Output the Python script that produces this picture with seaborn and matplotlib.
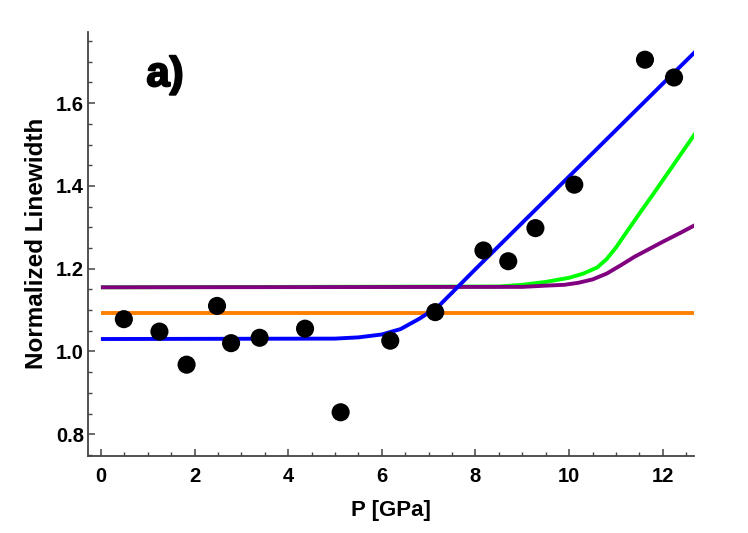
import numpy as np
import pandas as pd
import matplotlib
matplotlib.use("Agg")
import matplotlib.pyplot as plt
import matplotlib.patheffects as pe
from matplotlib.ticker import MultipleLocator, FormatStrFormatter
import seaborn as sns

# measured data points
pressure = [0.49, 1.25, 1.83, 2.48, 2.78, 3.39, 4.36, 5.12, 6.18, 7.14, 8.17, 8.70, 9.28, 10.11, 11.62, 12.24]
linewidth = [1.078, 1.048, 0.968, 1.110, 1.020, 1.033, 1.055, 0.853, 1.026, 1.095, 1.244, 1.218, 1.298, 1.403, 1.705, 1.662]

# model curves
orange_x = [0.0, 12.7]
orange_y = [1.092, 1.092]

blue_x = [0.0, 5.0, 5.5, 6.0, 6.4, 6.8, 7.2, 7.5, 8.0, 9.0, 10.0, 11.0, 12.0, 12.7]
blue_y = [1.030, 1.031, 1.034, 1.041, 1.054, 1.079, 1.108, 1.142, 1.199, 1.311, 1.423, 1.535, 1.647, 1.725]

green_x = [0.0, 8.5, 9.0, 9.5, 10.0, 10.3, 10.6, 10.8, 11.0, 11.2, 11.5, 11.8, 12.1, 12.4, 12.7]
green_y = [1.155, 1.157, 1.161, 1.168, 1.178, 1.188, 1.203, 1.223, 1.251, 1.284, 1.333, 1.381, 1.430, 1.479, 1.528]

purple_x = [0.0, 9.0, 9.5, 9.9, 10.2, 10.5, 10.8, 11.1, 11.4, 11.7, 12.0, 12.4, 12.7]
purple_y = [1.155, 1.156, 1.159, 1.161, 1.166, 1.174, 1.188, 1.208, 1.229, 1.247, 1.265, 1.288, 1.306]

sns.set_style("ticks")
plt.rcParams['font.family'] = ['Liberation Sans', 'DejaVu Sans']
plt.rcParams['font.weight'] = 'bold'
plt.rcParams['text.color'] = 'black'
plt.rcParams['axes.labelcolor'] = 'black'

fig = plt.figure(figsize=(7.48, 5.33), dpi=100)
ax = fig.add_axes([0.118, 0.145, 0.810, 0.795])

lw = 2.8
line_kw = dict(linewidth=lw, solid_joinstyle='round', solid_capstyle='butt')
sns.lineplot(x=orange_x, y=orange_y, ax=ax, color='#ff8000', **line_kw)
sns.lineplot(x=green_x, y=green_y, ax=ax, color='#00ff00', **line_kw)
sns.lineplot(x=purple_x, y=purple_y, ax=ax, color='#800080', **line_kw)
sns.lineplot(x=blue_x, y=blue_y, ax=ax, color='#0000ff', **line_kw)

pts = pd.DataFrame({"P": pressure, "w": linewidth})
sns.scatterplot(data=pts, x="P", y="w", ax=ax, color='black', s=170, edgecolor='none', zorder=5)

ax.set_xlim(-0.27, 12.67)
ax.set_ylim(0.748, 1.772)

ax.xaxis.set_major_locator(MultipleLocator(2))
ax.xaxis.set_minor_locator(MultipleLocator(0.5))
ax.yaxis.set_major_locator(MultipleLocator(0.2))
ax.yaxis.set_minor_locator(MultipleLocator(0.05))
ax.yaxis.set_major_formatter(FormatStrFormatter('%.1f'))

sns.despine(ax=ax)
for side in ['left', 'bottom']:
    ax.spines[side].set_color('#444444')
    ax.spines[side].set_linewidth(1.3)

ax.tick_params(which='major', direction='in', length=5, width=1.1, color='#444444',
               labelcolor='black', labelsize=14.5)
ax.tick_params(which='minor', direction='in', length=3, width=1.0, color='#444444')
ax.tick_params(axis='x', which='major', pad=8)
ax.tick_params(axis='y', which='major', pad=3)
for lab in ax.get_xticklabels() + ax.get_yticklabels():
    lab.set_fontweight('bold')

ax.set_xlabel("P [GPa]", fontsize=16, fontweight='bold', labelpad=10)
ax.set_ylabel("Normalized Linewidth", fontsize=17.5, fontweight='bold', labelpad=6)

ax.text(1.37, 1.668, "a)", fontsize=30, fontweight='bold', color='black', ha='center', va='center',
        path_effects=[pe.withStroke(linewidth=1.5, foreground='black')])

fig.savefig("out.png", dpi=100)
